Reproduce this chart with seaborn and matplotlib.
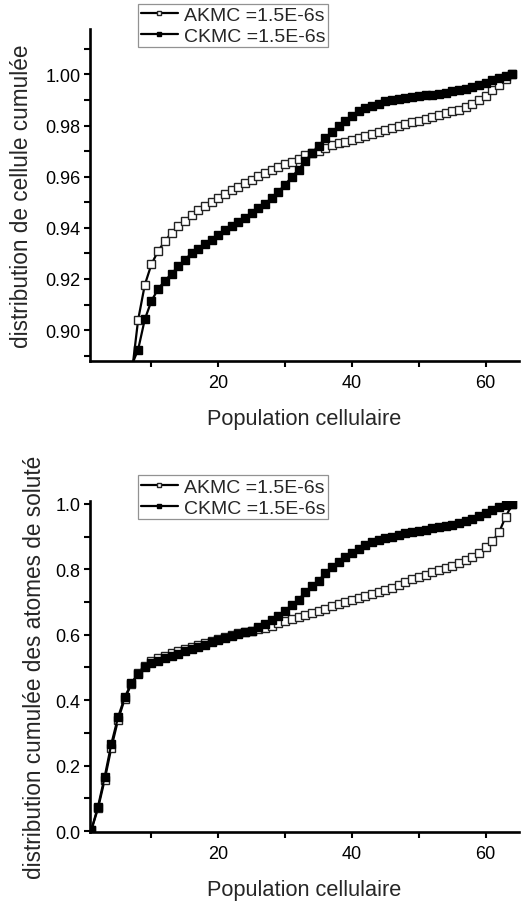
import matplotlib
matplotlib.use("Agg")
import matplotlib.pyplot as plt
import seaborn as sns
import pandas as pd
from matplotlib.ticker import MultipleLocator, FixedLocator

# ---------------- data ----------------
series_labels = ["AKMC =1.5E-6s", "CKMC =1.5E-6s"]
xlabel = "Population cellulaire"
ylabel_top = "distribution de cellule cumulée"
ylabel_bottom = "distribution cumulée des atomes de soluté"
x_ticks = [20, 40, 60]
yticks_top = [0.90, 0.92, 0.94, 0.96, 0.98, 1.00]
yticks_bottom = [0.0, 0.2, 0.4, 0.6, 0.8, 1.0]

population_top = list(range(7, 65))
akmc_top = [0.882, 0.904, 0.9177, 0.9258, 0.931, 0.9347, 0.9381, 0.9407, 0.9428, 0.9449,
            0.9468, 0.9485, 0.9500, 0.9517, 0.9533, 0.9546, 0.9560, 0.9574, 0.9587, 0.9601,
            0.9614, 0.9626, 0.9637, 0.9650, 0.9659, 0.9670, 0.9683, 0.9693, 0.9702, 0.9713,
            0.9722, 0.9730, 0.9737, 0.9745, 0.9753, 0.9760, 0.9767, 0.9775, 0.9783, 0.9791,
            0.9799, 0.9806, 0.9812, 0.9818, 0.9826, 0.9832, 0.9840, 0.9847, 0.9855, 0.9862,
            0.9871, 0.9884, 0.9899, 0.9917, 0.9937, 0.9960, 0.9983, 1.0000]
ckmc_top = [0.886, 0.8924, 0.9042, 0.9115, 0.9161, 0.9193, 0.9220, 0.9249, 0.9276, 0.9300,
            0.9318, 0.9337, 0.9354, 0.9373, 0.9390, 0.9406, 0.9422, 0.9440, 0.9457, 0.9477,
            0.9495, 0.9517, 0.9542, 0.9569, 0.9599, 0.9628, 0.9660, 0.9692, 0.9720, 0.9750,
            0.9776, 0.9797, 0.9819, 0.9839, 0.9855, 0.9867, 0.9877, 0.9886, 0.9894, 0.9900,
            0.9905, 0.9909, 0.9912, 0.9915, 0.9918, 0.9921, 0.9925, 0.9929, 0.9933, 0.9938,
            0.9944, 0.9951, 0.9959, 0.9967, 0.9976, 0.9985, 0.9993, 1.0000]

population_bottom = list(range(1, 65))
akmc_bottom = [0.003, 0.069, 0.157, 0.255, 0.340, 0.404, 0.450, 0.483, 0.506, 0.520,
               0.529, 0.536, 0.543, 0.550, 0.556, 0.562, 0.568, 0.574, 0.580, 0.586,
               0.592, 0.598, 0.604, 0.609, 0.613, 0.617, 0.622, 0.628, 0.635, 0.642,
               0.648, 0.653, 0.660, 0.667, 0.673, 0.680, 0.687, 0.694, 0.700, 0.707,
               0.712, 0.718, 0.724, 0.730, 0.737, 0.744, 0.752, 0.761, 0.769, 0.777,
               0.784, 0.791, 0.798, 0.804, 0.811, 0.820, 0.829, 0.837, 0.850, 0.868,
               0.886, 0.913, 0.961, 1.000]
ckmc_bottom = [0.003, 0.075, 0.166, 0.267, 0.348, 0.409, 0.452, 0.480, 0.500, 0.513,
               0.521, 0.528, 0.535, 0.542, 0.549, 0.556, 0.563, 0.570, 0.577, 0.584,
               0.590, 0.596, 0.601, 0.607, 0.613, 0.623, 0.633, 0.646, 0.657, 0.674,
               0.691, 0.707, 0.730, 0.748, 0.765, 0.788, 0.806, 0.822, 0.837, 0.850,
               0.862, 0.875, 0.883, 0.890, 0.895, 0.900, 0.905, 0.910, 0.914, 0.917,
               0.921, 0.925, 0.929, 0.933, 0.937, 0.942, 0.948, 0.955, 0.963, 0.972,
               0.981, 0.990, 0.998, 1.000]

# ---------------- style ----------------
sns.set_theme(style="ticks")
plt.rcParams["font.family"] = ["Liberation Sans", "DejaVu Sans"]

fig = plt.figure(figsize=(5.22, 9.03), dpi=100)
ax_top = fig.add_axes([0.1724, 0.599, 0.822, 0.3677])
ax_bot = fig.add_axes([0.1724, 0.0775, 0.822, 0.3666])

akmc_style = dict(marker="s", markersize=5.2, markerfacecolor="white",
                  markeredgecolor="#222222", markeredgewidth=1.0,
                  color="black", linewidth=1.6)
ckmc_style = dict(marker="s", markersize=5.2, markerfacecolor="black",
                  markeredgecolor="black", markeredgewidth=1.0,
                  color="black", linewidth=1.6)


def draw(ax, xs, a, c, ylabel, ylim, yticks, yminor, ylabel_x):
    df_a = pd.DataFrame({"x": xs, "y": a})
    df_c = pd.DataFrame({"x": xs, "y": c})
    sns.lineplot(data=df_a, x="x", y="y", ax=ax, estimator=None, sort=False,
                 label=series_labels[0], **akmc_style)
    sns.lineplot(data=df_c, x="x", y="y", ax=ax, estimator=None, sort=False,
                 label=series_labels[1], **ckmc_style)
    ax.set_xlim(0.8, 65.0)
    ax.set_ylim(*ylim)
    ax.xaxis.set_major_locator(FixedLocator(x_ticks))
    ax.xaxis.set_minor_locator(MultipleLocator(10))
    ax.yaxis.set_major_locator(FixedLocator(yticks))
    ax.yaxis.set_minor_locator(MultipleLocator(yminor))
    if yticks[1] - yticks[0] < 0.1:
        ax.set_yticklabels([f"{v:.2f}" for v in yticks])
    else:
        ax.set_yticklabels([f"{v:.1f}" for v in yticks])
    ax.set_xlabel(xlabel, fontsize=15.7, labelpad=12)
    ax.set_ylabel(ylabel, fontsize=16.3)
    ax.yaxis.set_label_coords(ylabel_x, 0.5)
    for s in ["top", "right"]:
        ax.spines[s].set_visible(False)
    for s in ["left", "bottom"]:
        ax.spines[s].set_linewidth(1.9)
        ax.spines[s].set_color("black")
    ax.tick_params(which="both", direction="out", length=4, width=1.5,
                   color="black", labelsize=13, labelcolor="black")
    ax.tick_params(axis="x", which="both", pad=5.5)
    ax.tick_params(axis="y", which="both", pad=3)
    leg = ax.legend(loc="upper left", bbox_to_anchor=(0.112, 1.077),
                    borderaxespad=0, frameon=True, fancybox=False,
                    fontsize=14, markerscale=0.6, handlelength=1.9,
                    handletextpad=0.3, labelspacing=0.15, borderpad=0.15)
    leg.get_frame().set_edgecolor("#777777")
    leg.get_frame().set_linewidth(0.9)
    ax.set_facecolor("white")


draw(ax_top, population_top, akmc_top, ckmc_top, ylabel_top,
     (0.8879, 1.0177), yticks_top, 0.01, -0.132)
draw(ax_bot, population_bottom, akmc_bottom, ckmc_bottom, ylabel_bottom,
     (-0.003, 1.009), yticks_bottom, 0.1, -0.103)

fig.savefig("out.png", dpi=100, facecolor="white")
